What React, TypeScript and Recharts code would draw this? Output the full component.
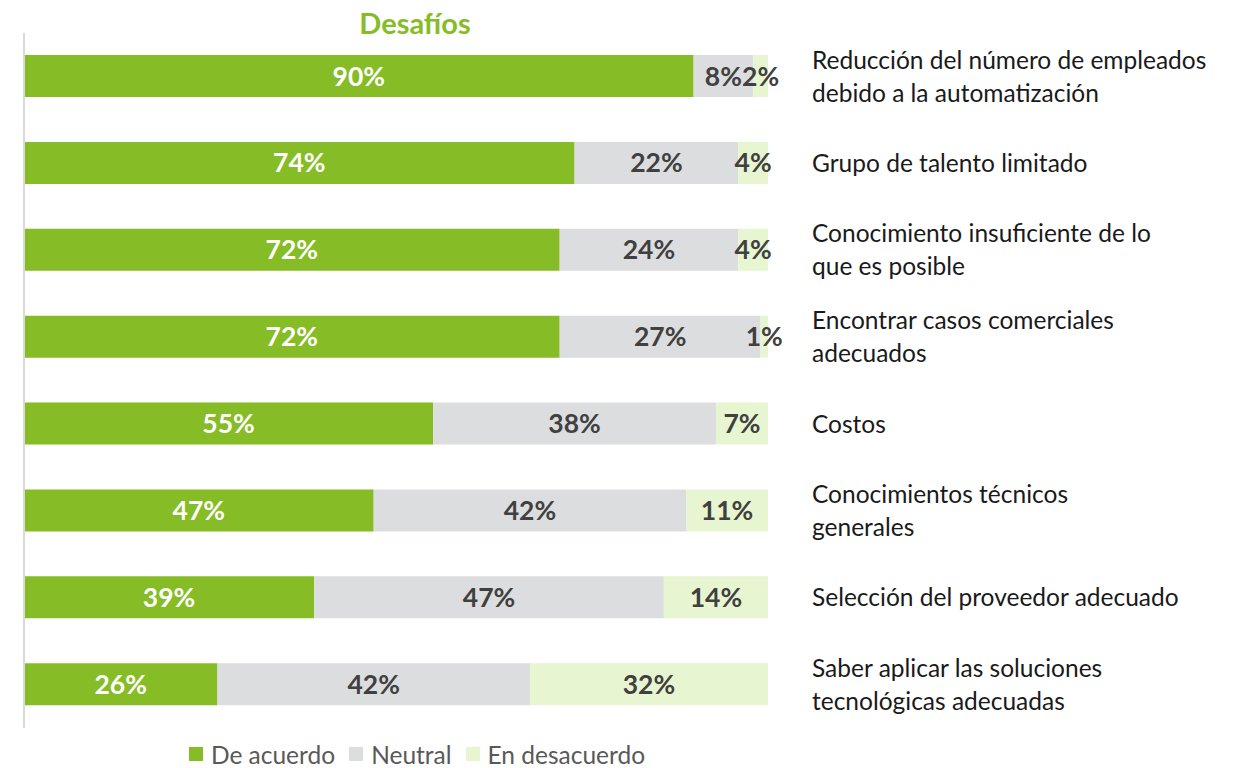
import React from "react";
import { Bar, BarChart, LabelList, Legend, ReferenceLine, XAxis, YAxis } from "recharts";

const categories = [
  "Reducción del número de empleados\ndebido a la automatización",
  "Grupo de talento limitado",
  "Conocimiento insuficiente de lo\nque es posible",
  "Encontrar casos comerciales\nadecuados",
  "Costos",
  "Conocimientos técnicos\ngenerales",
  "Selección del proveedor adecuado",
  "Saber aplicar las soluciones\ntecnológicas adecuadas",
];

const deAcuerdo = [90, 74, 72, 72, 55, 47, 39, 26];
const neutral = [8, 22, 24, 27, 38, 42, 47, 42];
const desacuerdo = [2, 4, 4, 1, 7, 11, 14, 32];

const series = [
  { key: "deAcuerdo", name: "De acuerdo", color: "#86BC25", text: "#FFFFFF" },
  { key: "neutral", name: "Neutral", color: "#DCDDDE", text: "#404040" },
  { key: "desacuerdo", name: "En desacuerdo", color: "#E7F5D0", text: "#404040" },
];

const data = categories.map((name, i) => ({
  name,
  deAcuerdo: deAcuerdo[i],
  neutral: neutral[i],
  desacuerdo: desacuerdo[i],
}));

const FONT = "Lato, Calibri, 'Open Sans', sans-serif";

const CategoryTick = (props: any) => {
  const { x, y, payload } = props;
  const lines = String(payload.value).split("\n");
  const lh = 33;
  const start = -((lines.length - 1) * lh) / 2;
  return (
    <text
      x={x + 36}
      y={y}
      fill="#1A1A1A"
      fontSize={24.5}
      fontFamily={FONT}
      textAnchor="start"
    >
      {lines.map((l, i) => (
        <tspan key={i} x={x + 36} y={y + start + i * lh} dy="0.35em">
          {l}
        </tspan>
      ))}
    </text>
  );
};

const makeLabel = (fill: string) => (props: any) => {
  const { x, y, width, height, value } = props;
  return (
    <text
      x={x + width / 2}
      y={y + height / 2}
      dy="0.36em"
      textAnchor="middle"
      fill={fill}
      fontSize={26.5}
      fontWeight={700}
      fontFamily={FONT}
    >
      {value}%
    </text>
  );
};

const LegendContent = () => (
  <div
    style={{
      display: "flex",
      justifyContent: "center",
      alignItems: "center",
      fontFamily: FONT,
      fontSize: 24.5,
      color: "#595959",
      paddingLeft: 18,
      height: 28,
    }}
  >
    {series.map((s) => (
      <span
        key={s.key}
        style={{ display: "inline-flex", alignItems: "center", marginRight: 14 }}
      >
        <span
          style={{
            width: 14,
            height: 14,
            background: s.color,
            display: "inline-block",
            marginRight: 8,
          }}
        />
        {s.name}
      </span>
    ))}
  </div>
);

export default function App() {
  return (
    <div
      style={{
        position: "absolute",
        left: 0,
        top: 0,
        width: 1234,
        height: 768,
        background: "#FFFFFF",
      }}
    >
      <div
        style={{
          position: "absolute",
          left: 0,
          top: 5,
          width: 830,
          textAlign: "center",
          fontFamily: FONT,
          fontWeight: 700,
          fontSize: 29,
          color: "#86BC25",
        }}
      >
        Desafíos
      </div>
      <BarChart
        width={1234}
        height={768}
        data={data}
        layout="vertical"
        margin={{ top: 33, right: 0, bottom: 12, left: 24 }}
        barSize={42}
      >
        <XAxis type="number" domain={[0, 100]} hide />
        <YAxis yAxisId="left" type="category" dataKey="name" hide />
        <YAxis
          yAxisId="right"
          orientation="right"
          type="category"
          dataKey="name"
          width={466}
          tickLine={false}
          axisLine={false}
          tick={<CategoryTick />}
        />
        <Legend
          verticalAlign="bottom"
          content={<LegendContent />}
          wrapperStyle={{ bottom: 0, left: 0, width: 830, height: 28 }}
        />
        {series.map((s) => (
          <Bar
            key={s.key}
            yAxisId="left"
            dataKey={s.key}
            name={s.name}
            stackId="a"
            fill={s.color}
            isAnimationActive={false}
          >
            <LabelList dataKey={s.key} content={makeLabel(s.text)} />
          </Bar>
        ))}
        <ReferenceLine yAxisId="left" x={0} stroke="#D9D9D9" strokeWidth={2} />
      </BarChart>
    </div>
  );
}
